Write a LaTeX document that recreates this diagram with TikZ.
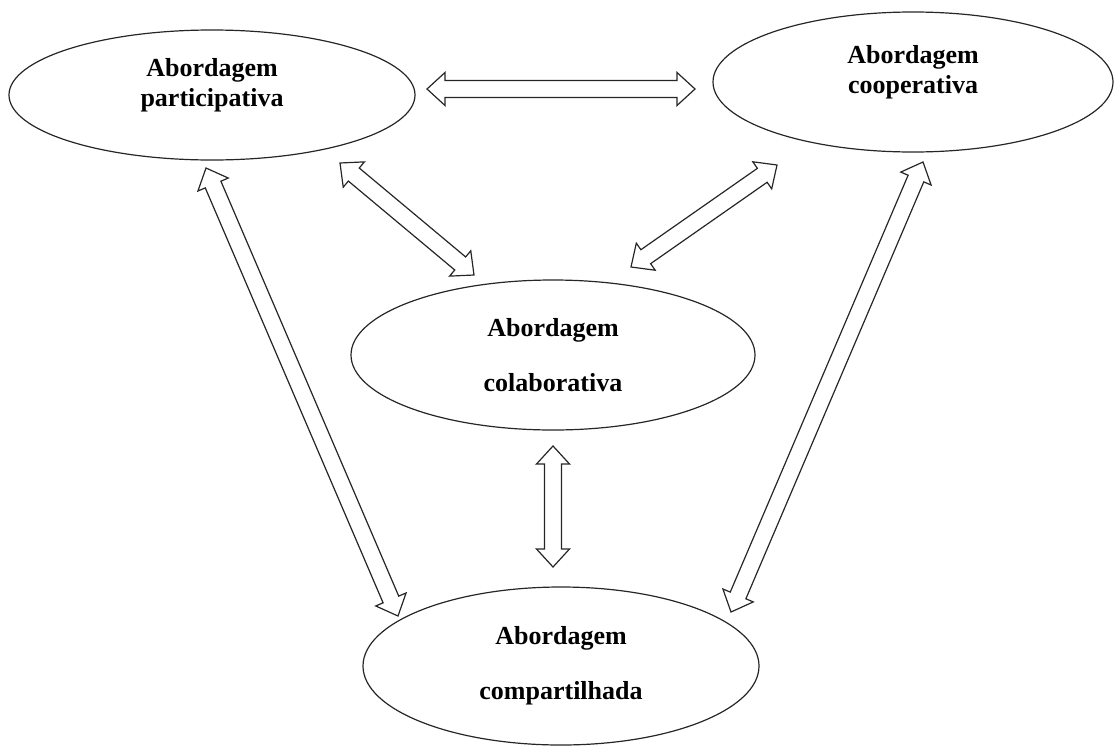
\documentclass[tikz,border=0pt]{standalone}
\usepackage{fontspec}
\setmainfont{Liberation Serif}
\usetikzlibrary{shapes.geometric,calc}

% hollow double-headed block arrow between two named coordinates
\newcommand{\blockarrow}[2]{%
  \path ($(#1)!18pt!(#2)$) coordinate (h1) ($(#2)!18pt!(#1)$) coordinate (h2);
  \draw[arrowline] (#1) -- ($(h1)!16.5pt!90:(#2)$) -- ($(h1)!8.5pt!90:(#2)$)
    -- ($(h2)!8.5pt!-90:(#1)$) -- ($(h2)!16.5pt!-90:(#1)$) -- (#2)
    -- ($(h2)!16.5pt!90:(#1)$) -- ($(h2)!8.5pt!90:(#1)$)
    -- ($(h1)!8.5pt!-90:(#2)$) -- ($(h1)!16.5pt!-90:(#2)$) -- cycle;}

\begin{document}
\begin{tikzpicture}[x=1pt, y=-1pt,
    approach/.style={draw=black!85, ellipse, line width=1.2pt, inner sep=0pt, align=center,
      font=\fontsize{26}{30}\selectfont\bfseries},
    arrowline/.style={draw=black!85, line width=1.2pt, line join=miter}]
  \useasboundingbox (0,0) rectangle (1115,747);

  % Approaches
  \node[approach, minimum width=406pt, minimum height=130pt, text depth=26pt] (part) at (212,95) {Abordagem\\participativa};
  \node[approach, minimum width=400pt, minimum height=140pt, text depth=26pt] (coop) at (913,82) {Abordagem\\cooperativa};
  \node[approach, minimum width=404pt, minimum height=150pt] (colab) at (553,355) {Abordagem\\[25pt]colaborativa};
  \node[approach, minimum width=396pt, minimum height=158pt] (comp) at (561,666) {Abordagem\\[25pt]compartilhada};

  % Arrow ends
  \coordinate (partcoop) at (427,89);   \coordinate (cooppart) at (695,89);
  \coordinate (partcolab) at (340,163); \coordinate (colabpart) at (474,275);
  \coordinate (partcomp) at (206,168);  \coordinate (comppart) at (398,616);
  \coordinate (coopcolab) at (777,165); \coordinate (colabcoop) at (631,267);
  \coordinate (coopcomp) at (923,162);  \coordinate (compcoop) at (731,612);
  \coordinate (colabcomp) at (553,446); \coordinate (compcolab) at (553,567);

  % Links
  \blockarrow{partcoop}{cooppart}
  \blockarrow{partcolab}{colabpart}
  \blockarrow{partcomp}{comppart}
  \blockarrow{coopcolab}{colabcoop}
  \blockarrow{coopcomp}{compcoop}
  \blockarrow{colabcomp}{compcolab}
\end{tikzpicture}
\end{document}
